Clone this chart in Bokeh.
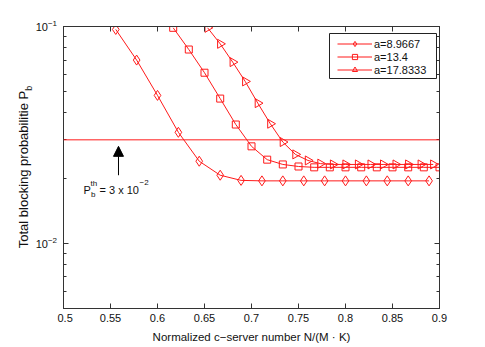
import math
from bokeh.plotting import figure
from bokeh.layouts import row
from bokeh.models import (Range1d, FixedTicker, LinearAxis, LogAxis, Span, Label,
                          Arrow, NormalHead, Legend, LegendItem, BoxAnnotation, Div)
from bokeh.embed import file_html
from bokeh.resources import INLINE

# ---------------- data ----------------
X_A1 = [0.5556, 0.5778, 0.6000, 0.6222, 0.6444, 0.6667, 0.6889, 0.7111,
        0.7333, 0.7556, 0.7778, 0.8000, 0.8222, 0.8444, 0.8667, 0.8889]
Y_A1 = [0.0969, 0.0700, 0.0481, 0.0325, 0.0239, 0.0206, 0.0195, 0.0194,
        0.0194, 0.0194, 0.0194, 0.0194, 0.0194, 0.0194, 0.0194, 0.0194]

X_A2 = [0.6167, 0.6333, 0.6500, 0.6667, 0.6833, 0.7000, 0.7167, 0.7333, 0.7500,
        0.7667, 0.7833, 0.8000, 0.8167, 0.8333, 0.8500, 0.8667, 0.8833, 0.9000]
Y_A2 = [0.0986, 0.0783, 0.0612, 0.0465, 0.0353, 0.0280, 0.0243, 0.0231, 0.0226,
        0.0224, 0.0224, 0.0224, 0.0224, 0.0224, 0.0224, 0.0224, 0.0224, 0.0224]

X_A3 = [0.6533, 0.6667, 0.6800, 0.6933, 0.7067, 0.7200, 0.7333, 0.7467, 0.7600,
        0.7733, 0.7867, 0.8000, 0.8133, 0.8267, 0.8400, 0.8533, 0.8667, 0.8800, 0.8933]
Y_A3 = [0.0986, 0.0832, 0.0685, 0.0558, 0.0443, 0.0356, 0.0293, 0.0257, 0.0241,
        0.0233, 0.0231, 0.0231, 0.0231, 0.0231, 0.0231, 0.0231, 0.0231, 0.0231, 0.0231]

SERIES_LABELS = ["a=8.9667", "a=13.4", "a=17.8333"]

P_TH = 0.03                      # threshold line
ARROW_X = 0.5585
ARROW_Y = [0.0206, 0.0280]

X_RANGE = (0.5, 0.9)
Y_RANGE = (0.005, 0.1)
X_TICKS = [0.5, 0.55, 0.6, 0.65, 0.7, 0.75, 0.8, 0.85, 0.9]
X_TICK_LABELS = ["0.5", "0.55", "0.6", "0.65", "0.7", "0.75", "0.8", "0.85", "0.9"]
Y_TICKS = [0.01, 0.1]
Y_TICK_BASE = ["10", "10"]
Y_TICK_EXP = ["\u22122", "\u22121"]
Y_MINOR = [0.005, 0.006, 0.007, 0.008, 0.009,
           0.02, 0.03, 0.04, 0.05, 0.06, 0.07, 0.08, 0.09]

X_TITLE = "Normalized c\u2212server number N/(M \u00b7 K)"
Y_TITLE = "Total blocking probabilitie P"
Y_TITLE_SUB = "b"

# ---------------- layout / style ----------------
RED = "#ff1a1a"
AXC = "#333333"
TXT = "#111111"
FONT = "Liberation Sans"
H = 346
STRIP_W = 57          # html strip holding y tick labels + y title
LEFT_B = 6            # main figure left border (room for the tick-only axis)
FRAME_TOP = 26
FRAME_H = 282
FRAME_W = 376
RIGHT_B = 40
BOTTOM_B = H - FRAME_TOP - FRAME_H

p = figure(width=LEFT_B + FRAME_W + RIGHT_B, height=H, x_range=Range1d(*X_RANGE),
           y_range=Range1d(*Y_RANGE), y_axis_type="log",
           output_backend="svg", toolbar_location=None,
           min_border_left=LEFT_B, min_border_right=RIGHT_B,
           min_border_top=FRAME_TOP, min_border_bottom=BOTTOM_B)
p.xgrid.visible = False
p.ygrid.visible = False
p.outline_line_color = AXC


def style_axis(ax, show_labels):
    ax.axis_line_color = AXC
    ax.axis_line_width = 1
    ax.major_tick_in = 5
    ax.major_tick_out = 0
    ax.minor_tick_in = 3
    ax.minor_tick_out = 0
    ax.major_tick_line_color = AXC
    ax.minor_tick_line_color = AXC
    ax.major_label_text_font = FONT
    ax.major_label_text_font_size = "11px" if show_labels else "0px"
    ax.major_label_text_color = TXT
    ax.major_label_standoff = 5 if show_labels else 0
    if not show_labels:
        ax.axis_label_standoff = 0


xa = p.xaxis[0]
xa.ticker = FixedTicker(ticks=X_TICKS, minor_ticks=[])
xa.major_label_overrides = {t: s for t, s in zip(X_TICKS, X_TICK_LABELS)}
style_axis(xa, True)
xa.axis_label = X_TITLE
xa.axis_label_text_font = FONT
xa.axis_label_text_font_size = "11.5px"
xa.axis_label_text_font_style = "normal"
xa.axis_label_text_color = TXT
xa.axis_label_standoff = 6

ya = p.yaxis[0]
ya.ticker = FixedTicker(ticks=Y_TICKS, minor_ticks=Y_MINOR)
ya.major_label_overrides = {t: "" for t in Y_TICKS}
style_axis(ya, False)

top = LinearAxis(ticker=FixedTicker(ticks=X_TICKS, minor_ticks=[]))
style_axis(top, False)
top.major_label_overrides = {t: "" for t in X_TICKS}
p.add_layout(top, "above")

right = LogAxis(ticker=FixedTicker(ticks=Y_TICKS, minor_ticks=Y_MINOR))
style_axis(right, False)
right.major_label_overrides = {t: "" for t in Y_TICKS}
p.add_layout(right, "right")

# threshold line
p.add_layout(Span(location=P_TH, dimension="width", line_color=RED, line_width=1))

# series
l1 = p.line(X_A1, Y_A1, line_color=RED, line_width=1)
s1 = p.scatter(X_A1, Y_A1, marker="diamond", size=10, line_color=RED,
               fill_color=None, line_width=1)
l2 = p.line(X_A2, Y_A2, line_color=RED, line_width=1)
s2 = p.scatter(X_A2, Y_A2, marker="square", size=7, line_color=RED,
               fill_color=None, line_width=1)
l3 = p.line(X_A3, Y_A3, line_color=RED, line_width=1)
s3 = p.scatter(X_A3, Y_A3, marker="triangle", angle=-math.pi / 2, size=9,
               line_color=RED, fill_color=None, line_width=1)

# arrow + annotation text
p.add_layout(Arrow(end=NormalHead(size=10, fill_color="black", line_color="black"),
                   x_start=ARROW_X, y_start=ARROW_Y[0], x_end=ARROW_X, y_end=ARROW_Y[1],
                   line_color="black", line_width=1))


def txt(x, y, s, size):
    p.add_layout(Label(x=x, y=y, x_units="screen", y_units="screen", text=s,
                       text_align="left", text_baseline="alphabetic",
                       text_font=FONT, text_font_size=size, text_color=TXT))


txt(20, 119, "P", "11px")
txt(27, 125, "th", "8px")
txt(27.5, 114, "b", "8px")
txt(36, 119, "= 3 x 10", "11px")
txt(76, 126, "\u22122", "8px")

# legend: box + borderless legend inside it
p.add_layout(BoxAnnotation(left=266, right=373, top=275, bottom=230,
                           left_units="screen", right_units="screen",
                           top_units="screen", bottom_units="screen",
                           line_color="#222222", line_width=1, line_alpha=1,
                           fill_color="white", fill_alpha=1))
legend = Legend(items=[LegendItem(label=SERIES_LABELS[0], renderers=[l1, s1]),
                       LegendItem(label=SERIES_LABELS[1], renderers=[l2, s2]),
                       LegendItem(label=SERIES_LABELS[2], renderers=[l3, s3])],
                location=(274, 232), padding=0, spacing=0, margin=0,
                glyph_width=35, glyph_height=13, label_height=13,
                label_standoff=2,
                label_text_font=FONT, label_text_font_size="11px",
                label_text_color=TXT,
                border_line_color=None, background_fill_alpha=0)
p.add_layout(legend)

# ---------------- left strip: y tick labels and y title (html text) ----------------
dec_px = FRAME_H / (math.log10(Y_RANGE[1]) - math.log10(Y_RANGE[0]))


def ypx(v):
    return FRAME_TOP + (math.log10(Y_RANGE[1]) - math.log10(v)) * dec_px


font_css = "font-family:'Liberation Sans',Arial,sans-serif;color:%s;" % TXT
parts = []
for t, b, e in zip(Y_TICKS, Y_TICK_BASE, Y_TICK_EXP):
    yc = ypx(t)
    parts.append(
        '<div style="position:absolute;right:0px;top:%.1fpx;height:14px;line-height:14px;'
        'font-size:11px;white-space:nowrap;%s">%s<span style="font-size:8px;position:relative;'
        'top:-5px">%s</span></div>' % (yc - 6, font_css, b, e))
title_cx = 24
title_cy = FRAME_TOP + FRAME_H / 2
parts.append(
    '<div style="position:absolute;left:%.1fpx;top:%.1fpx;width:300px;height:16px;'
    'line-height:16px;text-align:center;white-space:nowrap;font-size:13px;'
    'transform:rotate(-90deg);%s">%s<span style="font-size:9px;position:relative;top:4px">%s</span></div>'
    % (title_cx - 150, title_cy - 8, font_css, Y_TITLE, Y_TITLE_SUB))

html = ('<div style="position:relative;width:%dpx;height:%dpx;overflow:visible">%s</div>'
        % (STRIP_W, H, "".join(parts)))
strip = Div(text=html, width=STRIP_W, height=H, margin=0)

layout = row(strip, p, spacing=0)
open("out.html", "w").write(file_html(layout, INLINE))
